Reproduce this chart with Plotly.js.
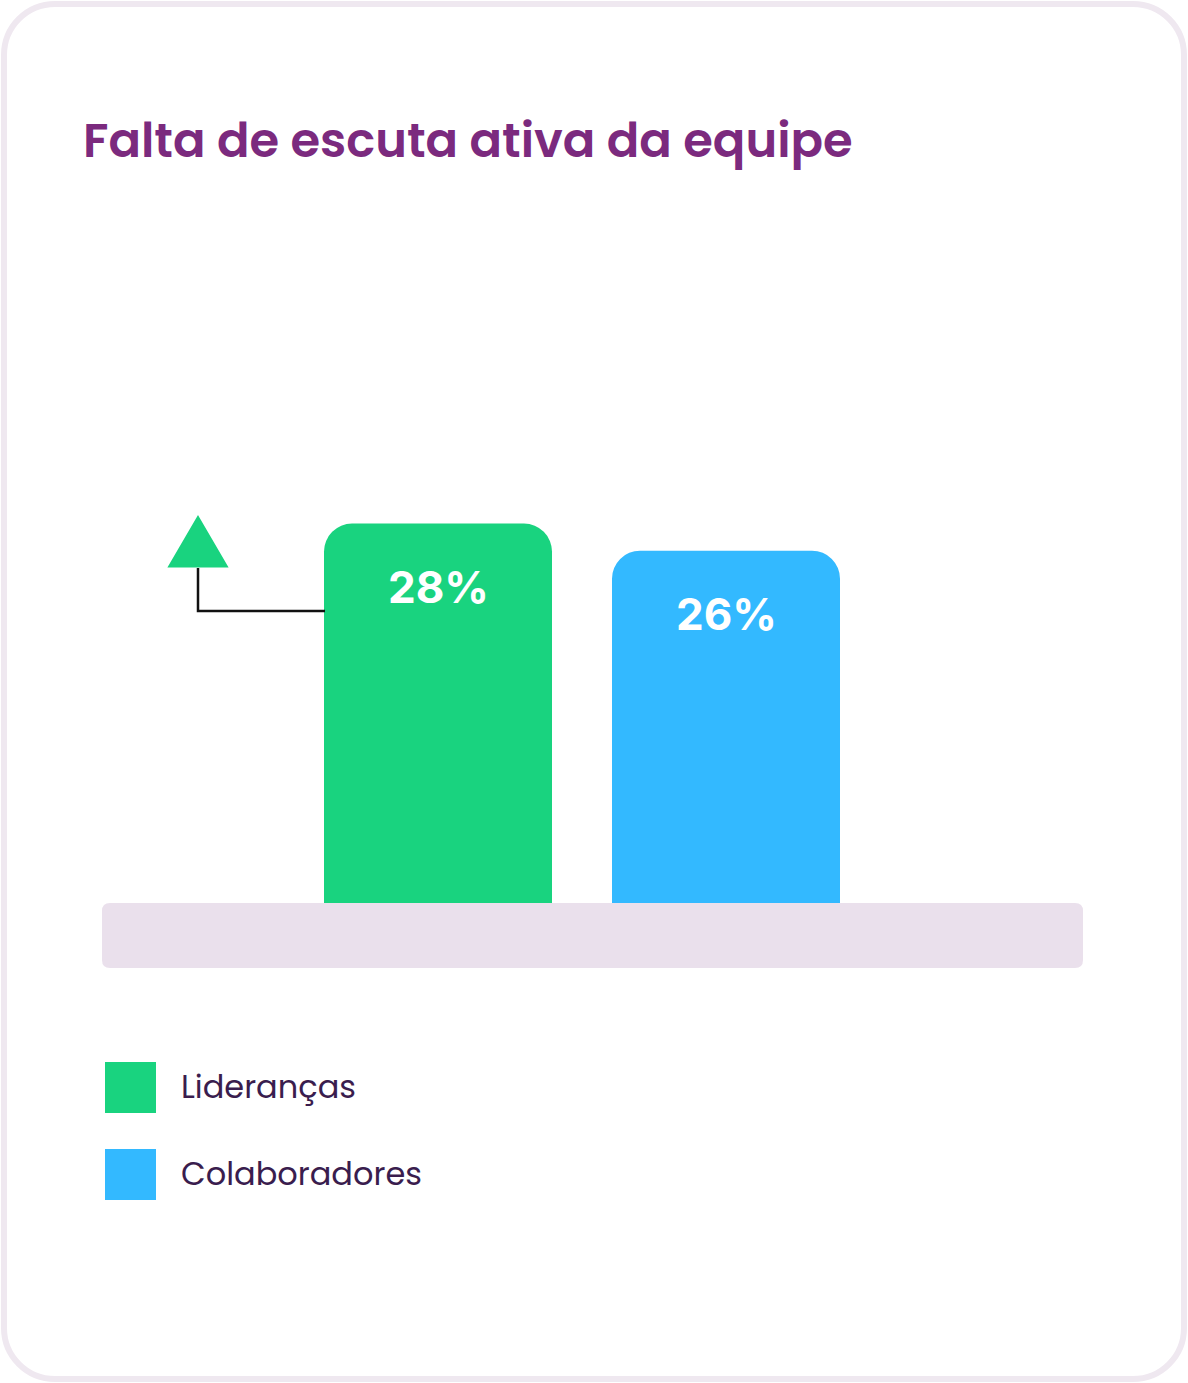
<!DOCTYPE html>
<html>
<head>
<meta charset="utf-8">
<script src="https://cdn.plot.ly/plotly-3.0.1.min.js"></script>
<style>
  html, body { margin: 0; padding: 0; background: #fff; }
  #card {
    position: absolute; left: 1px; top: 1px;
    width: 1186px; height: 1381px; box-sizing: border-box;
    border: 6px solid #EFE8F0; border-radius: 54px; background: #fff;
    overflow: hidden;
  }
  #chart { position: absolute; left: -7px; top: -7px; width: 1188px; height: 1383px; }
</style>
</head>
<body>
<div id="card"><div id="chart"></div></div>
<script>
// datos
const TITLE = 'Falta de escuta ativa da equipe';
const CATEGORY = ['Falta de escuta ativa da equipe'];
const SERIES_NAMES = ['Lideranças', 'Colaboradores'];
const SERIES_VALUES = [28, 26];
const SERIES_COLORS = ['#19D37F', '#33B9FF'];

const W = 1188, H = 1383;
const px = v => v / W;          // pixel -> paper (x)
const py = v => 1 - v / H;      // pixel -> paper (y)
const FONT = 'Poppins, Inter, "Noto Sans", sans-serif';
const LABEL_FONT = 'Inter, "Noto Sans", sans-serif';

// barras
const data = SERIES_NAMES.map((name, i) => ({
  type: 'bar',
  name,
  x: CATEGORY,
  y: [SERIES_VALUES[i]],
  marker: { color: SERIES_COLORS[i], cornerradius: 28 },
  hoverinfo: 'skip',
  showlegend: false
}));

// etiquetas de porcentaje dentro de la barra
const annotations = SERIES_NAMES.map((name, i) => ({
  xref: 'x', yref: 'y',
  x: CATEGORY[0], y: SERIES_VALUES[i],
  xshift: i === 0 ? -144 : 144, yshift: -63,
  text: SERIES_VALUES[i] + '%',
  showarrow: false,
  font: { family: LABEL_FONT, size: 44, color: '#ffffff', weight: 700 }
}));

// leyenda manual (cuadros grandes)
const shapes = [];
SERIES_NAMES.forEach((name, i) => {
  const top = 1062 + 87 * i;
  shapes.push({
    type: 'rect', xref: 'paper', yref: 'paper',
    x0: px(105), x1: px(156), y0: py(top + 51), y1: py(top),
    fillcolor: SERIES_COLORS[i], line: { width: 0 }
  });
  annotations.push({
    xref: 'paper', yref: 'paper', x: px(179), y: py(top + 24),
    xanchor: 'left', yanchor: 'middle', showarrow: false,
    text: name,
    font: { family: FONT, size: 32, color: '#3A1D4E' }
  });
});

// base gris con esquinas redondeadas
(function () {
  const x0 = 102, x1 = 1083, y0 = 903, y1 = 968, r = 8;
  const P = (x, y) => `${px(x)},${py(y)}`;
  shapes.push({
    type: 'path', xref: 'paper', yref: 'paper', layer: 'below',
    path: `M${P(x0 + r, y0)} L${P(x1 - r, y0)} Q${P(x1, y0)} ${P(x1, y0 + r)} ` +
          `L${P(x1, y1 - r)} Q${P(x1, y1)} ${P(x1 - r, y1)} L${P(x0 + r, y1)} ` +
          `Q${P(x0, y1)} ${P(x0, y1 - r)} L${P(x0, y0 + r)} Q${P(x0, y0)} ${P(x0 + r, y0)} Z`,
    fillcolor: '#EAE0EC', line: { width: 0 }
  });
})();

// flecha indicadora
shapes.push({
  type: 'path', xref: 'paper', yref: 'paper',
  path: `M${px(198)},${py(568)} L${px(198)},${py(611)} L${px(325)},${py(611)}`,
  line: { color: '#111111', width: 2.5 }
});
shapes.push({
  type: 'path', xref: 'paper', yref: 'paper',
  path: `M${px(198)},${py(518)} L${px(226)},${py(566)} L${px(170)},${py(566)} Z`,
  fillcolor: '#19D37F', line: { color: '#19D37F', width: 3, }
});

const layout = {
  width: W, height: H,
  margin: { l: 0, r: 0, t: 0, b: 0 },
  paper_bgcolor: 'rgba(0,0,0,0)', plot_bgcolor: 'rgba(0,0,0,0)',
  title: {
    text: TITLE, x: px(83), xanchor: 'left', xref: 'paper',
    y: py(140), yanchor: 'middle', yref: 'paper',
    font: { family: FONT, size: 48, color: '#7B2A7E', weight: 600 }
  },
  barmode: 'group', bargap: 0, bargroupgap: 60 / 288,
  xaxis: { domain: [px(294), px(870)], visible: false, fixedrange: true },
  yaxis: { domain: [py(903), py(300)], range: [0, 603 / 13.55], visible: false, fixedrange: true },
  shapes, annotations, showlegend: false
};

Plotly.newPlot('chart', data, layout, { displayModeBar: false, staticPlot: true });
</script>
</body>
</html>
